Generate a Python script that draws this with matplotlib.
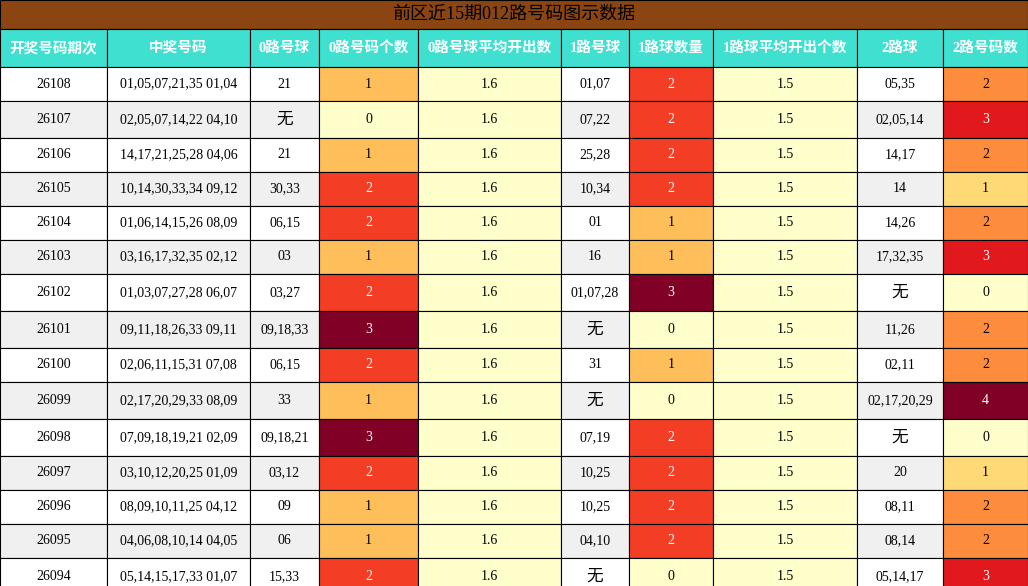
import matplotlib
matplotlib.use("Agg")
import matplotlib.pyplot as plt
from matplotlib.patches import Rectangle
from matplotlib import colormaps
import matplotlib.colors as mcolors

plt.rcParams['font.family'] = ['Liberation Serif', 'Noto Sans CJK SC']

title = "前区近15期012路号码图示数据"
headers = ["开奖号码期次", "中奖号码", "0路号球", "0路号码个数", "0路号球平均开出数",
           "1路号球", "1路球数量", "1路球平均开出个数", "2路球", "2路号码数"]
periods = ["26108", "26107", "26106", "26105", "26104", "26103", "26102", "26101",
           "26100", "26099", "26098", "26097", "26096", "26095", "26094"]
numbers = ["01,05,07,21,35 01,04", "02,05,07,14,22 04,10", "14,17,21,25,28 04,06",
           "10,14,30,33,34 09,12", "01,06,14,15,26 08,09", "03,16,17,32,35 02,12",
           "01,03,07,27,28 06,07", "09,11,18,26,33 09,11", "02,06,11,15,31 07,08",
           "02,17,20,29,33 08,09", "07,09,18,19,21 02,09", "03,10,12,20,25 01,09",
           "08,09,10,11,25 04,12", "04,06,08,10,14 04,05", "05,14,15,17,33 01,07"]
r0_balls = ["21", "无", "21", "30,33", "06,15", "03", "03,27", "09,18,33", "06,15",
            "33", "09,18,21", "03,12", "09", "06", "15,33"]
r0_count = [1, 0, 1, 2, 2, 1, 2, 3, 2, 1, 3, 2, 1, 1, 2]
r0_avg = "1.6"
r1_balls = ["01,07", "07,22", "25,28", "10,34", "01", "16", "01,07,28", "无", "31",
            "无", "07,19", "10,25", "10,25", "04,10", "无"]
r1_count = [2, 2, 2, 2, 1, 1, 3, 0, 1, 0, 2, 2, 2, 2, 0]
r1_avg = "1.5"
r2_balls = ["05,35", "02,05,14", "14,17", "14", "14,26", "17,32,35", "无", "11,26",
            "02,11", "02,17,20,29", "无", "20", "08,11", "08,14", "05,14,17"]
r2_count = [2, 3, 2, 1, 2, 3, 0, 2, 2, 4, 0, 1, 2, 2, 3]

W, H = 1028, 586
col_x = [0, 107, 250, 319, 418, 561, 629, 713, 857, 943, 1028]

fig = plt.figure(figsize=(W / 100, H / 100), dpi=100)
ax = fig.add_axes([0, 0, 1, 1])
ax.set_xlim(0, W)
ax.set_ylim(H, 0)
ax.axis('off')

def cell(x0, x1, y0, y1, fc, txt, tc='black', size=10, weight='normal'):
    ax.add_patch(Rectangle((x0, y0), x1 - x0, y1 - y0, fc=fc, ec='black', lw=0.8))
    ax.text((x0 + x1) / 2, (y0 + y1) / 2, txt, ha='center', va='center',
            color=tc, fontsize=size, fontweight=weight)

# title and header
cell(0, W, 0, 29, '#8B4513', title, size=13)
for i, h in enumerate(headers):
    cell(col_x[i], col_x[i + 1], 29, 67, '#40E0D0', h, tc='white', size=10.5, weight='bold')

def count_color(v, vmax):
    c = colormaps['YlOrRd'](v / vmax if vmax else 0)
    lum = 0.299 * c[0] + 0.587 * c[1] + 0.114 * c[2]
    return c, ('white' if lum < 0.6 else 'black')

y = 67
for r in range(len(periods)):
    row = [periods[r], numbers[r], r0_balls[r], r0_count[r], r0_avg,
           r1_balls[r], r1_count[r], r1_avg, r2_balls[r], r2_count[r]]
    h = 37 if "无" in (r0_balls[r], r1_balls[r], r2_balls[r]) else 34
    base = 'white' if r % 2 == 0 else '#F0F0F0'
    for i, v in enumerate(row):
        fc, tc, size = base, 'black', 10
        if i in (3, 6, 9):
            vmax = max([r0_count, r1_count, r2_count][(i - 3) // 3])
            fc, tc = count_color(v, vmax)
        elif i in (4, 7):
            fc = '#FFFFCC'
        if v == "无":
            size = 12
        cell(col_x[i], col_x[i + 1], y, y + h, fc, str(v), tc=tc, size=size)
    y += h

fig.savefig("out.png", dpi=100)
